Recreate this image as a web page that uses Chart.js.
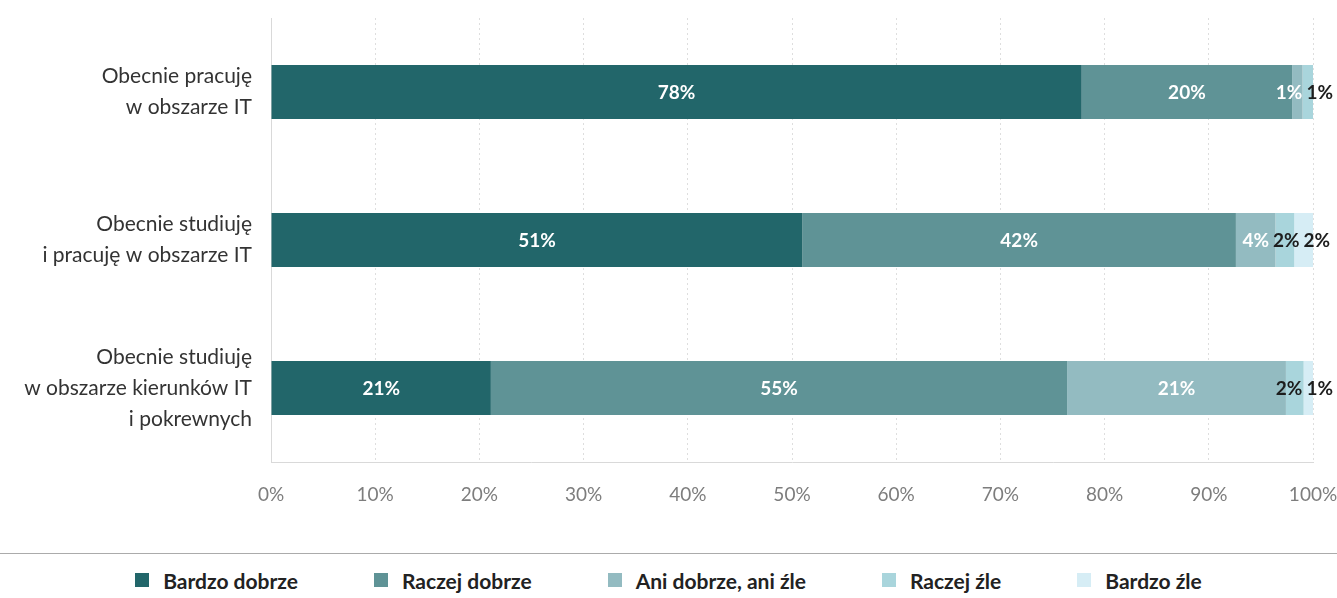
<!DOCTYPE html>
<html lang="pl">
<head>
<meta charset="utf-8">
<title>Ocena przygotowania</title>
<script src="https://cdn.jsdelivr.net/npm/chart.js@4.4.1/dist/chart.umd.min.js"></script>
<style>
  body { margin: 0; background: #fff; font-family: Lato, "Open Sans", sans-serif; }
  #wrap { position: relative; width: 1337px; height: 598px; overflow: hidden; }
  #chart { position: absolute; left: 0; top: 0; }
  #sep { position: absolute; left: 0; top: 553px; width: 1337px; height: 1px; background: #ababab; }
  #legend { position: absolute; left: 0; top: 567px; width: 1337px; display: flex; justify-content: center; gap: 76px; }
  .item { display: flex; align-items: center; height: 26px; font-size: 21px; font-weight: 700; color: #222; }
  .box { width: 14px; height: 14px; margin-right: 14px; }
</style>
</head>
<body>
<div id="wrap">
  <canvas id="chart" width="1337" height="530"></canvas>
  <div id="sep"></div>
  <div id="legend"></div>
</div>
<script>
const categories = [
  ['Obecnie pracuję', 'w obszarze IT'],
  ['Obecnie studiuję', 'i pracuję w obszarze IT'],
  ['Obecnie studiuję', 'w obszarze kierunków IT', 'i pokrewnych']
];
const seriesNames = ['Bardzo dobrze', 'Raczej dobrze', 'Ani dobrze, ani źle', 'Raczej źle', 'Bardzo źle'];

// share of answers per group, in percent
const bardzoDobrze = [77.8, 51.0, 21.1];
const raczejDobrze = [20.2, 41.6, 55.3];
const aniDobrzeAniZle = [1.0, 3.8, 21.0];
const raczejZle = [1.0, 1.8, 1.7];
const bardzoZle = [0, 1.8, 0.9];

const xTicks = [0, 10, 20, 30, 40, 50, 60, 70, 80, 90, 100];

const colors = ['#22666a', '#5f9396', '#93bbc1', '#a9d5dc', '#d6edf5'];
const labelColors = ['#ffffff', '#ffffff', '#ffffff', '#1d1d1d', '#1d1d1d'];

const seriesValues = [bardzoDobrze, raczejDobrze, aniDobrzeAniZle, raczejZle, bardzoZle];

// value labels inside bars; small ones get pushed apart so they don't overlap
const valueLabels = {
  id: 'valueLabels',
  afterDatasetsDraw(chart) {
    const ctx = chart.ctx;
    const gap = 4;
    const maxRight = chart.width - 4;
    ctx.save();
    ctx.font = 'bold 19px Lato, sans-serif';
    ctx.textAlign = 'center';
    ctx.textBaseline = 'middle';
    chart.data.labels.forEach((_, i) => {
      const items = [];
      chart.data.datasets.forEach((ds, d) => {
        const v = ds.data[i];
        if (!v) return;
        const bar = chart.getDatasetMeta(d).data[i];
        const text = Math.round(v) + '%';
        items.push({ text, x: (bar.x + bar.base) / 2, y: bar.y, w: ctx.measureText(text).width, color: labelColors[d] });
      });
      for (let k = 1; k < items.length; k++) {
        const prev = items[k - 1], cur = items[k];
        const minX = prev.x + prev.w / 2 + gap + cur.w / 2;
        if (cur.x < minX) cur.x = minX;
      }
      for (let k = items.length - 1; k >= 0; k--) {
        const cur = items[k];
        const limit = k === items.length - 1 ? maxRight : items[k + 1].x - items[k + 1].w / 2 - gap;
        if (cur.x + cur.w / 2 > limit) cur.x = limit - cur.w / 2;
      }
      items.forEach(it => {
        ctx.fillStyle = it.color;
        ctx.fillText(it.text, it.x, it.y + 1);
      });
    });
    ctx.restore();
  }
};

const chart = new Chart(document.getElementById('chart'), {
  type: 'bar',
  data: {
    labels: categories,
    datasets: seriesNames.map((name, i) => ({
      label: name,
      data: seriesValues[i],
      backgroundColor: colors[i],
      borderWidth: 0,
      barPercentage: 0.73,
      categoryPercentage: 0.5
    }))
  },
  options: {
    indexAxis: 'y',
    responsive: false,
    animation: false,
    layout: { padding: { top: 18, right: 24, left: 0, bottom: 0 } },
    plugins: {
      legend: { display: false },
      tooltip: { enabled: false }
    },
    scales: {
      x: {
        stacked: true,
        min: 0,
        max: 100,
        afterFit: s => {
          s.height = 68;
          s.paddingLeft = 0;
          s.paddingRight = 0;
        },
        afterBuildTicks: s => { s.ticks = xTicks.map(v => ({ value: v })); },
        ticks: {
          padding: 21,
          color: '#7d7d7d',
          font: { family: 'Lato, sans-serif', size: 19 },
          callback: v => v + '%'
        },
        grid: { color: '#dedede', drawTicks: false },
        border: { display: true, color: '#d9d9d9', width: 1, dash: [2, 3] }
      },
      y: {
        stacked: true,
        afterFit: s => {
          s.width = 271;
          s.paddingTop = 0;
          s.paddingBottom = 0;
        },
        ticks: {
          padding: 19,
          color: '#333',
          font: { family: 'Lato, sans-serif', size: 21, lineHeight: 1.48 }
        },
        grid: { drawOnChartArea: false, drawTicks: false },
        border: { display: true, color: '#d9d9d9', width: 1 }
      }
    }
  },
  plugins: [valueLabels]
});

// legend below the separator line
const legend = document.getElementById('legend');
chart.data.datasets.forEach(ds => {
  const item = document.createElement('div');
  item.className = 'item';
  const box = document.createElement('span');
  box.className = 'box';
  box.style.background = ds.backgroundColor;
  item.appendChild(box);
  item.appendChild(document.createTextNode(ds.label));
  legend.appendChild(item);
});
</script>
</body>
</html>
